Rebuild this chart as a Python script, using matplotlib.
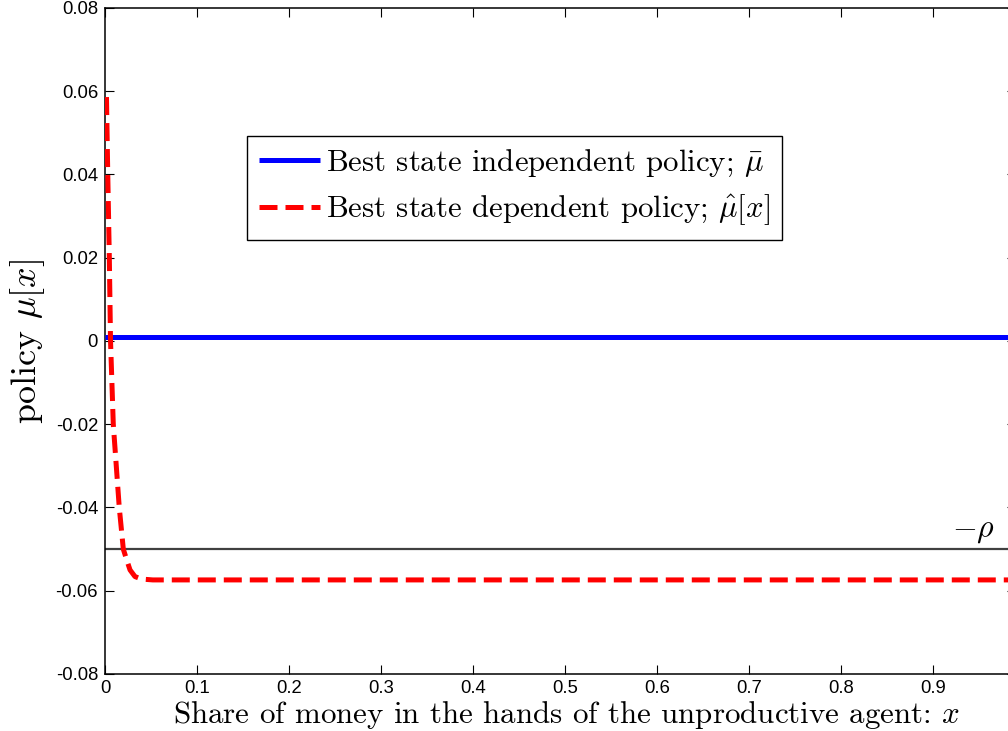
import matplotlib
matplotlib.use("Agg")
import matplotlib.pyplot as plt

plt.rcParams['mathtext.fontset'] = 'cm'
plt.rcParams['axes.unicode_minus'] = False
plt.rcParams['axes.formatter.use_mathtext'] = False

# Best state independent policy (constant)
mu_bar = 0.001
# Discount rate reference line
neg_rho = -0.05

# Best state dependent policy mu_hat[x]
x_hat = [0.0016, 0.003, 0.0047, 0.006, 0.009, 0.0155, 0.0199, 0.0236,
         0.0272, 0.0326, 0.0399, 0.052, 0.99]
mu_hat = [0.0586, 0.040, 0.020, 0.0, -0.020, -0.040, -0.050, -0.0526,
          -0.055, -0.0566, -0.0572, -0.0574, -0.0574]

x_min, x_max = 0.0, 0.99
y_min, y_max = -0.08, 0.08
xticks = [0, 0.1, 0.2, 0.3, 0.4, 0.5, 0.6, 0.7, 0.8, 0.9]
yticks = [-0.08, -0.06, -0.04, -0.02, 0, 0.02, 0.04, 0.06, 0.08]
xtick_labels = ['0', '0.1', '0.2', '0.3', '0.4', '0.5', '0.6', '0.7', '0.8', '0.9']
ytick_labels = ['-0.08', '-0.06', '-0.04', '-0.02', '0', '0.02', '0.04', '0.06', '0.08']

fig = plt.figure(figsize=(10.08, 7.31), dpi=100)
ax = fig.add_axes([0.10417, 0.07798, 0.9036, 0.9111])

ax.axhline(neg_rho, color='#404040', lw=1.6, zorder=2)
l1, = ax.plot([x_min, x_max], [mu_bar, mu_bar], color='#0000ff', lw=3.6,
              solid_capstyle='butt', zorder=3,
              label=r'Best state independent policy; $\bar{\mu}$')
l2, = ax.plot(x_hat, mu_hat, color='#ff0000', lw=3.6, dashes=(3.6, 1.6),
              zorder=4, label=r'Best state dependent policy; $\hat{\mu}[x]$')

ax.text(0.921, neg_rho + 0.0010, r'$-\rho$', fontsize=23, ha='left', va='bottom')

ax.set_xlim(x_min, x_max)
ax.set_ylim(y_min, y_max)
ax.set_xticks(xticks)
ax.set_xticklabels(xtick_labels)
ax.set_yticks(yticks)
ax.set_yticklabels(ytick_labels)
for lab in ax.get_xticklabels() + ax.get_yticklabels():
    lab.set_fontfamily('Liberation Sans')
    lab.set_fontsize(13.3)
ax.tick_params(direction='in', length=6.5, width=0.8, top=True, right=True,
               color='black')
ax.tick_params(axis='y', pad=5)
ax.tick_params(axis='x', pad=4)
for s in ax.spines.values():
    s.set_linewidth(1.1)
    s.set_color('black')

ax.set_xlabel(r'Share of money in the hands of the unproductive agent: $x$',
              fontfamily='cmr10', fontsize=22.3, labelpad=0)
ax.xaxis.set_label_coords(0.5065, -0.038, transform=ax.transAxes)
ax.xaxis.label.set_va('top')
ax.set_ylabel(r'policy $\mu[x]$', fontfamily='cmr10', fontsize=26, labelpad=6)

leg = ax.legend(handles=[l1, l2], loc='upper left',
                bbox_to_anchor=(0.156, 0.808), borderaxespad=0,
                prop={'family': 'cmr10', 'size': 22.2}, fancybox=False,
                framealpha=1, edgecolor='black', handlelength=1.95,
                handletextpad=0.2, labelspacing=0.42, borderpad=0.4)
leg.get_frame().set_linewidth(1.0)

fig.savefig('out.png', dpi=100)
